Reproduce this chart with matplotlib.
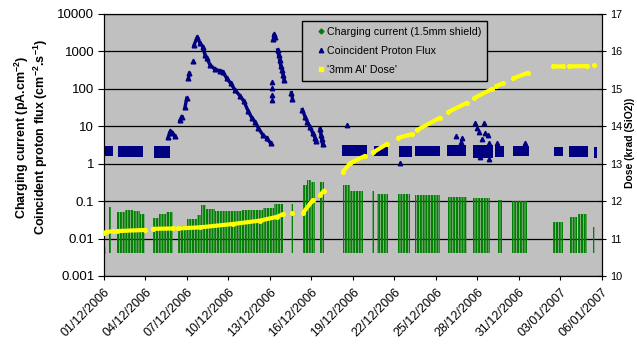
import numpy as np
import matplotlib
matplotlib.use("Agg")
import matplotlib.pyplot as plt
import matplotlib.dates as mdates
from matplotlib.lines import Line2D
from matplotlib.ticker import NullLocator
from datetime import datetime

plt.rcParams["font.family"] = ["Liberation Sans", "DejaVu Sans"]
plt.rcParams["mathtext.default"] = "regular"
plt.rcParams["hatch.linewidth"] = 1.5

# -----------------------------
# Data (days since 01/12/2006)
# -----------------------------
t0 = mdates.date2num(datetime(2006, 12, 1))

# charging current bursts: start day, end day, low, high (pA/cm2)
charge_start = np.array([0.00, 0.36, 0.94, 1.50, 2.10, 2.60, 3.54, 3.95, 4.45, 5.35, 6.00, 6.70,
                         7.00, 7.40, 8.00, 10.0, 11.5, 12.3, 13.55, 14.39, 14.70, 15.00, 15.62,
                         17.28, 17.80, 19.40, 19.74, 21.26, 22.49, 24.87, 26.68, 28.49, 29.50,
                         32.47, 33.69, 34.27, 35.36])
charge_end = np.array([0.15, 0.51, 1.50, 2.10, 2.60, 2.96, 3.95, 4.45, 4.99, 6.00, 6.70, 7.00,
                       7.40, 8.00, 10.0, 11.5, 12.3, 12.94, 13.65, 14.70, 15.00, 15.26, 15.91,
                       17.80, 18.73, 19.50, 20.54, 22.13, 24.30, 26.25, 27.91, 28.78, 30.59,
                       33.19, 34.20, 34.92, 35.50])
charge_low = np.array([0.0038] + [0.0042] * 36)
charge_high = np.array([0.006, 0.07, 0.050, 0.058, 0.055, 0.045, 0.036, 0.045, 0.050, 0.022, 0.034,
                        0.042, 0.080, 0.060, 0.055, 0.058, 0.065, 0.085, 0.085, 0.27, 0.36, 0.32,
                        0.32, 0.27, 0.19, 0.19, 0.16, 0.16, 0.15, 0.13, 0.12, 0.11, 0.10,
                        0.028, 0.037, 0.045, 0.020])

# proton flux quiet-time clusters: start day, end day, low, high
flux_cl_start = np.array([0.0, 1.0, 3.64, 17.2, 19.5, 21.3, 22.5, 24.8, 26.7, 28.3, 29.6, 32.5, 33.6, 35.4])
flux_cl_end = np.array([0.65, 2.82, 4.77, 19.0, 20.5, 22.3, 24.3, 26.2, 28.1, 28.9, 30.7, 33.2, 35.0, 35.65])
flux_cl_low = np.array([1.6, 1.55, 1.45, 1.6, 1.6, 1.5, 1.6, 1.6, 1.4, 1.5, 1.6, 1.6, 1.5, 1.4])
flux_cl_high = np.array([3.0, 2.9, 3.0, 3.1, 2.9, 3.0, 2.9, 3.2, 3.2, 2.9, 2.9, 2.8, 2.9, 2.8])

# proton flux during the events (nan = gap)
nan = np.nan
flux_days = np.array([4.65, 4.8, 4.95, 5.1, nan, 5.50, 5.62, nan, 5.86, 5.98, nan, 6.10, 6.17, nan,
                      6.41, nan, 6.51, 6.75, 6.94, 7.14, 7.30, 7.43, 7.66, 8.03, 8.39, 8.58, 8.87,
                      9.16, 9.47, 9.83, 10.12, 10.43, 10.68, 10.92, 11.16, 11.47, 11.76, 12.05, nan,
                      12.25, 12.30, 12.36, nan, 12.55, 12.62, nan, 12.70, 12.78, nan, 12.88, 12.95,
                      13.02, nan, 13.55, 13.62, nan, 14.34, 14.53, 14.70, 14.90, 15.09, 15.26, 15.30,
                      nan, 15.62, 15.68, 15.74, 15.80])
flux_vals = np.array([5.2, 7.5, 6.8, 5.5, nan, 14.7, 18, nan, 33, 56, nan, 190, 260, nan,
                      540, nan, 1480, 2450, 1650, 1350, 800, 660, 440, 330, 305, 290, 190,
                      140, 93, 65, 46, 25, 17, 13, 9, 5.9, 4.8, 3.5, nan,
                      2200, 2900, 2400, nan, 1100, 800, nan, 590, 400, nan, 320, 230,
                      170, nan, 79, 55, nan, 28, 18, 13, 9.4, 6.5, 4.8, 4.0,
                      nan, 8.5, 6.0, 4.5, 3.3])

# isolated proton flux points
flux_pt_days = np.array([12.15, 12.15, 12.15, 12.15, 17.55, 21.4, 25.45, 25.85, 25.8, 26.83, 27.49,
                         26.94, 27.1, 27.55, 27.75, 27.3, 27.86, 28.42, 30.44, 27.8, 27.18])
flux_pt_vals = np.array([50, 70, 105, 150, 10.5, 1.05, 5.5, 4.8, 3.9, 12.3, 12.6,
                         8.9, 7.2, 6.5, 5.9, 4.5, 3.5, 3.6, 3.5, 1.34, 1.5])

# '3mm Al' dose (krad)
dose_days = np.array([0.0, 0.65, nan, 0.94, 2.96, nan, 3.54, 4.99, nan,
                      5.35, 6.94, 9.33, 11.28, 12.49, 12.94, nan, 13.59, nan,
                      14.39, 15.11, nan, 15.62, 15.91, nan, 17.28, 17.79, 18.87, nan,
                      19.45, 20.46, nan, 21.26, 22.27, nan, 22.63, 24.30, nan, 24.87, 26.25, nan,
                      26.75, 28.06, nan, 28.34, 28.85, nan, 29.57, 30.66, nan, 32.47, 33.19, nan,
                      33.62, 34.92, nan, 35.45])
dose_vals = np.array([11.16, 11.2, nan, 11.2, 11.23, nan, 11.26, 11.27, nan,
                      11.27, 11.30, 11.39, 11.48, 11.58, 11.65, nan, 11.69, nan,
                      11.69, 12.03, nan, 12.16, 12.28, nan, 12.79, 13.01, 13.21, nan,
                      13.3, 13.53, nan, 13.69, 13.79, nan, 13.9, 14.23, nan, 14.38, 14.63, nan,
                      14.75, 15.0, nan, 15.07, 15.15, nan, 15.28, 15.43, nan, 15.6, 15.6, nan,
                      15.6, 15.61, nan, 15.65])

tick_days = np.arange(0, 37, 3)
tick_labels = ["01/12/2006", "04/12/2006", "07/12/2006", "10/12/2006", "13/12/2006",
               "16/12/2006", "19/12/2006", "22/12/2006", "25/12/2006", "28/12/2006",
               "31/12/2006", "03/01/2007", "06/01/2007"]
left_ticks = [0.001, 0.01, 0.1, 1, 10, 100, 1000, 10000]
left_labels = ["0.001", "0.01", "0.1", "1", "10", "100", "1000", "10000"]
right_ticks = [10, 11, 12, 13, 14, 15, 16, 17]

GREEN = "#008000"
NAVY = "#000080"
YELLOW = "#FFFF00"

# -----------------------------
# Plot
# -----------------------------
fig = plt.figure(figsize=(6.37, 3.44), dpi=100)
ax = fig.add_axes([104 / 637, 1 - 276 / 344, 498 / 637, 262 / 344])
ax.set_facecolor("#C0C0C0")
ax.set_yscale("log")
ax.set_ylim(0.001, 10000)
ax.set_xlim(t0, t0 + 36)

ax.bar(t0 + charge_start, charge_high - charge_low, width=charge_end - charge_start,
       bottom=charge_low, align="edge", facecolor="none", edgecolor=GREEN,
       hatch="||||||", linewidth=0, zorder=2)
ax.bar(t0 + flux_cl_start, flux_cl_high - flux_cl_low, width=flux_cl_end - flux_cl_start,
       bottom=flux_cl_low, align="edge", color=NAVY, linewidth=0, zorder=3)
ax.plot(t0 + flux_days, flux_vals, "-^", color=NAVY, ms=3.4, lw=2.4, zorder=4)
ax.plot(t0 + flux_pt_days, flux_pt_vals, "^", color=NAVY, ms=3.2, ls="none", zorder=4)

ax.set_yticks(left_ticks)
ax.set_yticklabels(left_labels)
ax.yaxis.set_minor_locator(NullLocator())
ax.yaxis.grid(True, which="major", color="black", lw=0.9)
ax.set_axisbelow(True)
ax.tick_params(axis="y", which="major", direction="out", length=4, labelsize=9.5, pad=3)

ax.set_xticks(t0 + tick_days)
ax.set_xticklabels(tick_labels, rotation=45, ha="right", rotation_mode="anchor", fontsize=9)
ax.tick_params(axis="x", direction="out", length=3, pad=4)

ax.set_ylabel("Charging current (pA.cm$^{-2}$)\nCoincident proton flux (cm$^{-2}$.s$^{-1}$)",
              fontsize=9, fontweight="bold", linespacing=1.05)
ax.yaxis.set_label_coords(-0.108, 0.53)

for sp in ax.spines.values():
    sp.set_color("black")

ax2 = ax.twinx()
ax2.set_ylim(10, 17)
ax2.plot(t0 + dose_days, dose_vals, "-o", color=YELLOW, lw=3.0, ms=2.6,
         solid_capstyle="round", zorder=5)
ax2.set_yticks(right_ticks)
ax2.tick_params(axis="y", direction="inout", length=6, labelsize=7.8, pad=3)
ax2.set_ylabel("Dose (krad (SiO2))", fontsize=7.5, fontweight="bold")
ax2.yaxis.set_label_coords(1.046, 0.51)

handles = [Line2D([], [], ls="none", marker="D", ms=2.5, color=GREEN),
           Line2D([], [], ls="none", marker="^", ms=3.2, color=NAVY),
           Line2D([], [], ls="none", marker="s", ms=2.5, color=YELLOW)]
labels = ["Charging current (1.5mm shield)", "Coincident Proton Flux", "'3mm Al' Dose'"]
leg = ax2.legend(handles, labels, loc="upper left", bbox_to_anchor=(0.3976, 0.9744),
                 fancybox=False, edgecolor="black", facecolor="#C0C0C0", framealpha=1,
                 fontsize=7.7, handlelength=2.5, handletextpad=-0.7, borderpad=0.55,
                 labelspacing=0.85, borderaxespad=0)
leg.get_frame().set_linewidth(1.0)

fig.savefig("out.png", dpi=100)
